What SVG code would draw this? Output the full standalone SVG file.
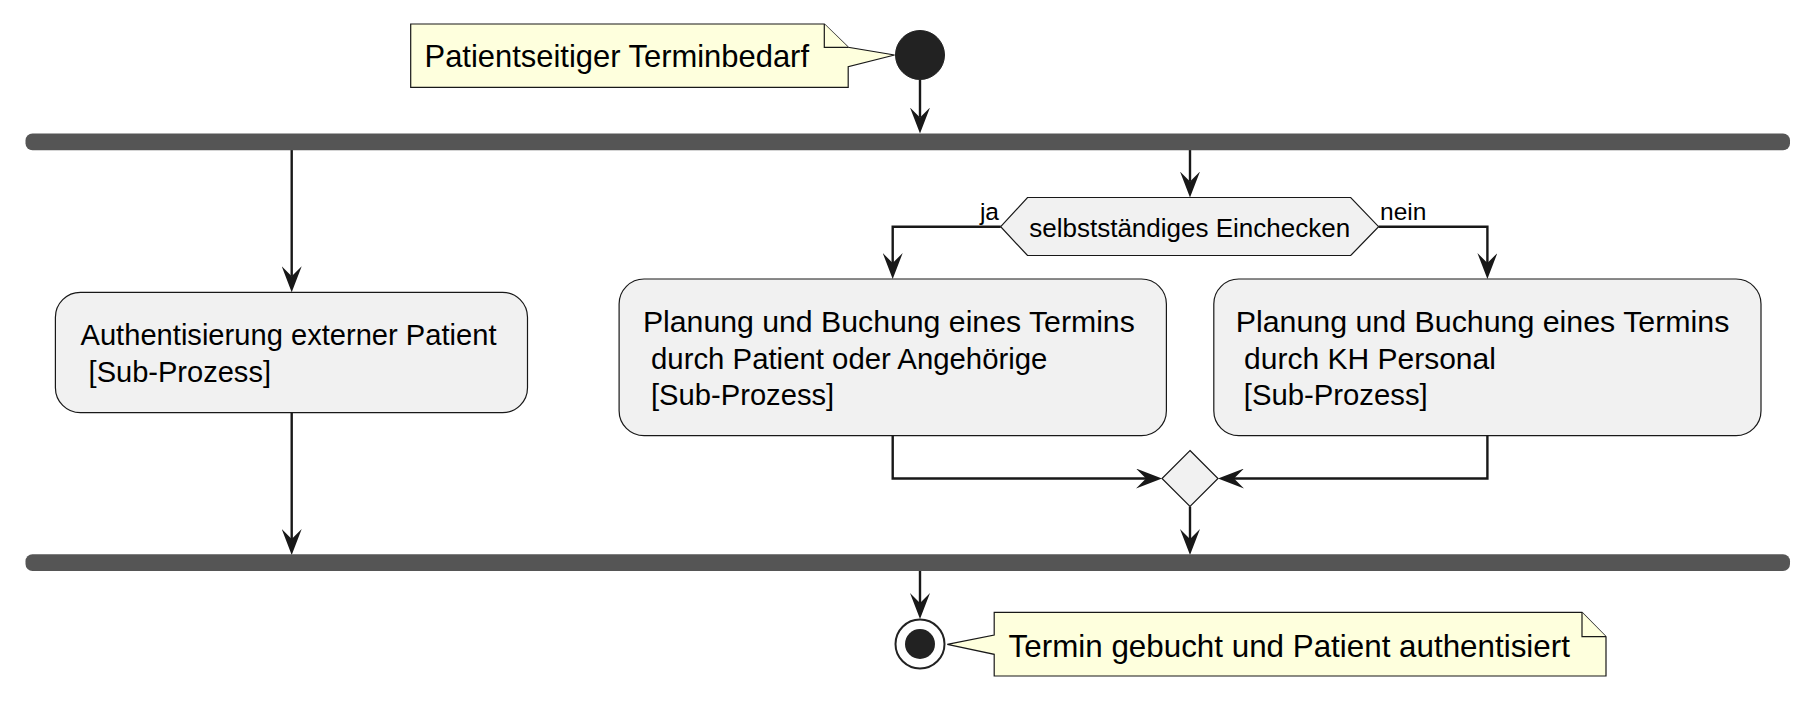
<svg xmlns="http://www.w3.org/2000/svg" width="1816" height="703" viewBox="0 0 1816 703">
<defs>
<style>
text{font-family:"Liberation Sans",Arial,sans-serif;fill:#000}
.act{fill:#F1F1F1;stroke:#181818;stroke-width:1.2}
.note{fill:#FEFFDD;stroke:#181818;stroke-width:1.2}
.bar{fill:#555555;stroke:none}
.con{fill:none;stroke:#181818;stroke-width:2.4;marker-end:url(#ah)}
.t-act{font-size:29.7px}
.t-note{font-size:30.7px}
.t-dec{font-size:26px}
.t-lbl{font-size:24.5px}
</style>
<marker id="ah" viewBox="0 0 26 20" refX="10" refY="10" markerWidth="26" markerHeight="20" markerUnits="userSpaceOnUse" orient="auto">
<path d="M0,0 L26,10 L0,20 L10,10 Z" fill="#181818"/>
</marker>
</defs>
<rect width="1816" height="703" fill="#FFFFFF"/>

<g id="connectors">
<line class="con" x1="920" y1="80" x2="920" y2="117.5"/>
<line class="con" x1="291.7" y1="150" x2="291.7" y2="276.3"/>
<line class="con" x1="1190" y1="150" x2="1190" y2="181.5"/>
<path class="con" d="M1000.7,226.7 H892.7 V263"/>
<path class="con" d="M1378.6,226.7 H1487.4 V263"/>
<path class="con" d="M892.7,435.7 V478.5 H1146"/>
<path class="con" d="M1487.4,435.7 V478.5 H1234"/>
<line class="con" x1="1190" y1="506.5" x2="1190" y2="539"/>
<line class="con" x1="291.7" y1="412.7" x2="291.7" y2="539"/>
<line class="con" x1="920" y1="571" x2="920" y2="603"/>
<text class="t-lbl" x="999" y="220" text-anchor="end">ja</text>
<text class="t-lbl" x="1380" y="220">nein</text>
</g>

<g id="start">
<circle cx="920" cy="55" r="24.5" fill="#222222" stroke="#222222" stroke-width="1"/>
</g>

<g id="note-start">
<path class="note" d="M410.7,24 H824.3 L848.2,47.3 L894.6,55 L848.2,66.7 V87.3 H410.7 Z"/>
<path class="note" d="M824.3,24 V47.3 H848.2"/>
<text class="t-note" x="424.5" y="66.7" textLength="384.5" lengthAdjust="spacingAndGlyphs">Patientseitiger Terminbedarf</text>
</g>

<g id="fork">
<rect class="bar" x="25.5" y="133.5" width="1764.5" height="16.7" rx="7"/>
</g>

<g id="auth">
<rect class="act" x="55.4" y="292.3" width="472.1" height="120.4" rx="25"/>
<text class="t-act" x="80.5" y="345" textLength="416" lengthAdjust="spacingAndGlyphs" xml:space="preserve">Authentisierung externer Patient</text>
<text class="t-act" x="80.5" y="381.8" textLength="190.5" lengthAdjust="spacingAndGlyphs" xml:space="preserve"> [Sub-Prozess]</text>
</g>

<g id="decision">
<polygon class="act" points="1000.7,226.7 1027.5,197.5 1350.7,197.5 1378.6,226.7 1350.7,255.5 1027.5,255.5"/>
<text class="t-dec" x="1189.7" y="236.7" text-anchor="middle">selbstständiges Einchecken</text>
</g>

<g id="plan-patient">
<rect class="act" x="619.1" y="279" width="547.3" height="156.7" rx="25"/>
<text class="t-act" x="642.9" y="331.7" textLength="491.9" lengthAdjust="spacingAndGlyphs" xml:space="preserve">Planung und Buchung eines Termins</text>
<text class="t-act" x="642.9" y="368.5" textLength="404.5" lengthAdjust="spacingAndGlyphs" xml:space="preserve"> durch Patient oder Angehörige</text>
<text class="t-act" x="642.9" y="405.3" textLength="191.3" lengthAdjust="spacingAndGlyphs" xml:space="preserve"> [Sub-Prozess]</text>
</g>

<g id="plan-kh">
<rect class="act" x="1213.8" y="279" width="547.2" height="156.7" rx="25"/>
<text class="t-act" x="1235.7" y="331.7" textLength="493.7" lengthAdjust="spacingAndGlyphs" xml:space="preserve">Planung und Buchung eines Termins</text>
<text class="t-act" x="1235.7" y="368.5" textLength="260.2" lengthAdjust="spacingAndGlyphs" xml:space="preserve"> durch KH Personal</text>
<text class="t-act" x="1235.7" y="405.3" textLength="192" lengthAdjust="spacingAndGlyphs" xml:space="preserve"> [Sub-Prozess]</text>
</g>

<g id="merge">
<polygon class="act" points="1190,450.5 1218,478.5 1190,506.5 1162,478.5"/>
</g>

<g id="join">
<rect class="bar" x="25.5" y="554.3" width="1764.5" height="16.7" rx="7"/>
</g>

<g id="end">
<circle cx="920" cy="644" r="24.5" fill="#FFFFFF" stroke="#222222" stroke-width="2"/>
<circle cx="920" cy="644" r="15" fill="#222222"/>
</g>

<g id="note-end">
<path class="note" d="M994.2,612.4 H1582 L1606,636.7 V676 H994.2 V654.3 L947.3,644.3 L994.2,635 Z"/>
<path class="note" d="M1582,612.4 V636.7 H1606"/>
<text class="t-note" x="1008.6" y="656.7" textLength="561.3" lengthAdjust="spacingAndGlyphs">Termin gebucht und Patient authentisiert</text>
</g>
</svg>
